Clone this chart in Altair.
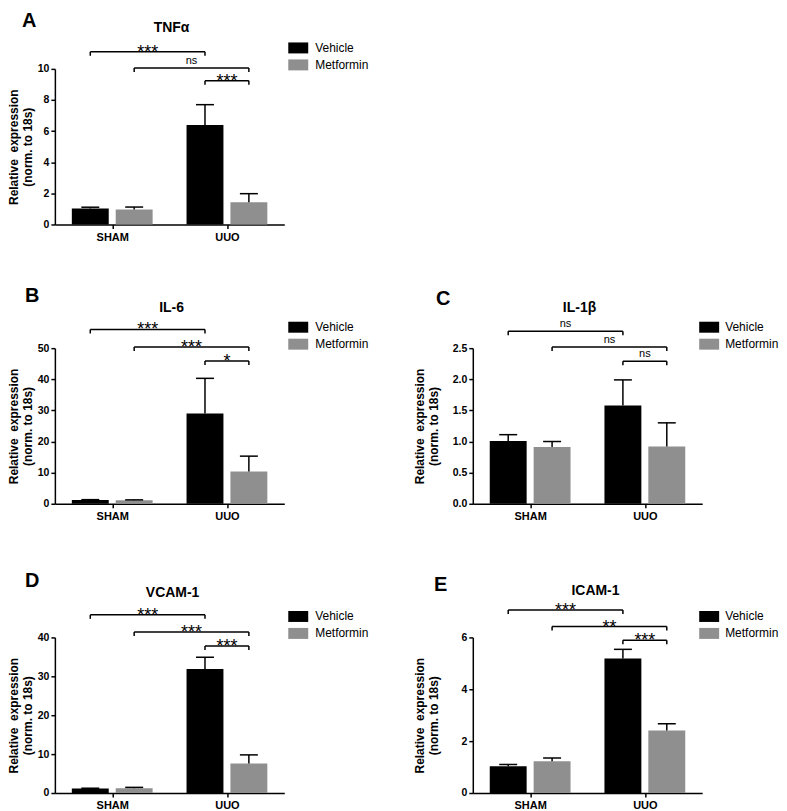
import altair as alt
import pandas as pd

# ---------------- data ----------------
groups = ["SHAM", "UUO"]
treatments = ["Vehicle", "Metformin"]
letters = ["A", "B", "C", "D", "E"]
genes = ["TNFα", "IL-6", "IL-1β", "VCAM-1", "ICAM-1"]

# order: SHAM-Vehicle, SHAM-Metformin, UUO-Vehicle, UUO-Metformin
tnf_mean = [1.03, 0.97, 6.40, 1.43]
tnf_sem = [0.08, 0.15, 1.30, 0.55]
il6_mean = [1.20, 1.10, 29.0, 10.4]
il6_sem = [0.12, 0.15, 11.3, 4.9]
il1b_mean = [1.01, 0.91, 1.58, 0.92]
il1b_sem = [0.10, 0.09, 0.41, 0.38]
vcam_mean = [1.15, 1.20, 31.9, 7.6]
vcam_sem = [0.08, 0.25, 3.0, 2.2]
icam_mean = [1.03, 1.22, 5.19, 2.41]
icam_sem = [0.07, 0.13, 0.35, 0.26]

means = [tnf_mean, il6_mean, il1b_mean, vcam_mean, icam_mean]
sems = [tnf_sem, il6_sem, il1b_sem, vcam_sem, icam_sem]

y_max = [10, 50, 2.5, 40, 6]
y_step = [2, 10, 0.5, 10, 2]
y_format = ["d", "d", ".1f", "d", "d"]

# brackets: (group_from, treatment_from, group_to, treatment_to)
bracket_pairs = [(0, 0, 1, 0), (0, 1, 1, 1), (1, 0, 1, 1)]
bracket_levels = [
    [11.1, 10.06, 9.23],
    [56.0, 50.4, 45.9],
    [2.77, 2.52, 2.29],
    [45.8, 41.4, 37.8],
    [7.06, 6.42, 5.89],
]
bracket_labels = [
    ["***", "ns", "***"],
    ["***", "***", "*"],
    ["ns", "ns", "ns"],
    ["***", "***", "***"],
    ["***", "**", "***"],
]

# ---------------- layout / style ----------------
W, H = 230, 156
BAR_OFF = 22 / 115
BAR_HALF = 18.5 / 115
CAP_HALF = 9 / 115
FONT = "Liberation Sans"
VEH_COLOR = "#000000"
MET_COLOR = "#8f8f8f"

letter_xy = [(-33, -42), (-30, -46), (-37, -43), (-30, -51), (-39, -47)]
title_xy = [(117, -37), (117, -36), (107, -36), (118, -41), (123, -43)]
ytitle_x = [-41, -41, -53, -41, -53]
legend_x = [234, 234, 227, 234, 227]
legend_off = [7, 7, 6, 7, 6]


def xpos(gi, ti):
    return gi + (ti - 0.5) * 2 * BAR_OFF


def panel(i):
    rows = []
    for gi, g in enumerate(groups):
        for ti, t in enumerate(treatments):
            k = gi * 2 + ti
            p = xpos(gi, ti)
            m = means[i][k]
            s = sems[i][k]
            rows.append(dict(group=g, treatment=t, mean=m, zero=0.0, upper=m + s,
                             pos=p, xl=p - BAR_HALF, xr=p + BAR_HALF,
                             cl=p - CAP_HALF, cr=p + CAP_HALF))
    df = pd.DataFrame(rows)

    ymax = y_max[i]
    nt = int(round(ymax / y_step[i]))
    ticks = [round(j * y_step[i], 3) for j in range(nt + 1)]
    tick_len = ymax * 4.0 / H

    brows = []
    for (g1, t1, g2, t2), lev, lab in zip(bracket_pairs, bracket_levels[i], bracket_labels[i]):
        a = xpos(g1, t1)
        b = xpos(g2, t2)
        brows.append(dict(x1=a, x2=b, mid=(a + b) / 2, level=lev, lo=lev - tick_len, label=lab))
    bdf = pd.DataFrame(brows)

    xscale = alt.Scale(domain=[-0.5, 1.5], nice=False, zero=False)
    yscale = alt.Scale(domain=[0, ymax], nice=False, zero=True)
    label_expr = "[" + ",".join("'%s'" % g for g in groups) + "][datum.value]"
    xaxis = alt.Axis(values=[0, 1], labelExpr=label_expr, tickSize=4, labelPadding=3,
                     grid=False, title=None, labelFontSize=11, labelFontWeight="bold")
    yaxis = alt.Axis(values=ticks, format=y_format[i], tickSize=4, labelPadding=2,
                     grid=False, labelFontSize=10.5, labelFontWeight="bold",
                     title=["Relative\u00a0\u00a0expression", "(norm. to 18s)"],
                     titleFontSize=12, titleFontWeight="bold", titleLineHeight=14,
                     titleX=ytitle_x[i], titleY=H / 2, titleAngle=270,
                     titleBaseline="middle", titleAlign="center")

    def X(f):
        return alt.X(f, type="quantitative", scale=xscale, axis=xaxis)

    def Y(f):
        return alt.Y(f, type="quantitative", scale=yscale, axis=yaxis)

    legend = alt.Legend(orient="none", legendX=legend_x[i], legendY=-31, title=None,
                        symbolType="M-1,-0.55H1V0.55H-1Z", symbolSize=400,
                        symbolStrokeWidth=0, symbolOpacity=1, labelFontSize=12,
                        labelOffset=legend_off[i], rowPadding=1, padding=0, labelLimit=200)

    bars = alt.Chart(df).mark_rect(strokeWidth=0).encode(
        x=X("xl"), x2=alt.X2("xr"), y=Y("mean"), y2=alt.Y2("zero"),
        color=alt.Color("treatment:N",
                        scale=alt.Scale(domain=treatments, range=[VEH_COLOR, MET_COLOR]),
                        legend=legend),
    )
    err = alt.Chart(df).mark_rule(color="black", strokeWidth=1.5).encode(
        x=X("pos"), y=Y("mean"), y2=alt.Y2("upper"))
    cap = alt.Chart(df).mark_rule(color="black", strokeWidth=1.5).encode(
        x=X("cl"), x2=alt.X2("cr"), y=Y("upper"))

    hline = alt.Chart(bdf).mark_rule(color="black", strokeWidth=1.5).encode(
        x=X("x1"), x2=alt.X2("x2"), y=Y("level"))
    ltick = alt.Chart(bdf).mark_rule(color="black", strokeWidth=1.5).encode(
        x=X("x1"), y=Y("lo"), y2=alt.Y2("level"))
    rtick = alt.Chart(bdf).mark_rule(color="black", strokeWidth=1.5).encode(
        x=X("x2"), y=Y("lo"), y2=alt.Y2("level"))
    stars = alt.Chart(bdf).transform_filter("datum.label != 'ns'").mark_text(
        fontSize=18, baseline="alphabetic", dy=6, color="black").encode(
        x=X("mid"), y=Y("level"), text="label:N")
    ns = alt.Chart(bdf).transform_filter("datum.label == 'ns'").mark_text(
        fontSize=11, baseline="alphabetic", dy=-4, color="black").encode(
        x=X("mid"), y=Y("level"), text="label:N")

    lx, ly = letter_xy[i]
    tx, ty = title_xy[i]
    letter = alt.Chart(pd.DataFrame({"t": [letters[i]]})).mark_text(
        fontSize=20, fontWeight="bold", align="left", baseline="alphabetic", color="black"
    ).encode(x=alt.value(lx), y=alt.value(ly), text="t:N")
    title = alt.Chart(pd.DataFrame({"t": [genes[i]]})).mark_text(
        fontSize=14, fontWeight="bold", align="center", baseline="alphabetic", color="black"
    ).encode(x=alt.value(tx), y=alt.value(ty), text="t:N")

    return alt.layer(bars, err, cap, hline, ltick, rtick, stars, ns, letter, title).properties(
        width=W, height=H)


pA, pB, pC, pD, pE = [panel(i) for i in range(5)]


def indep(c):
    return c.resolve_scale(color="independent").resolve_legend(color="independent")


chart = indep(alt.vconcat(
    pA,
    indep(alt.vconcat(
        indep(alt.hconcat(pB, pC, spacing=45)),
        indep(alt.hconcat(pD, pE, spacing=45)),
        spacing=49,
    )),
    spacing=44,
)).properties(padding={"top": 2, "left": 0, "right": 0, "bottom": 0}).configure(
    font=FONT
).configure_axis(
    domainColor="black", tickColor="black", labelColor="black", titleColor="black",
    domainWidth=1.5, tickWidth=1.5, grid=False
).configure_view(strokeWidth=0).configure_legend(labelColor="black")

chart.save("out.html", embed_options={"renderer": "svg", "actions": False})
